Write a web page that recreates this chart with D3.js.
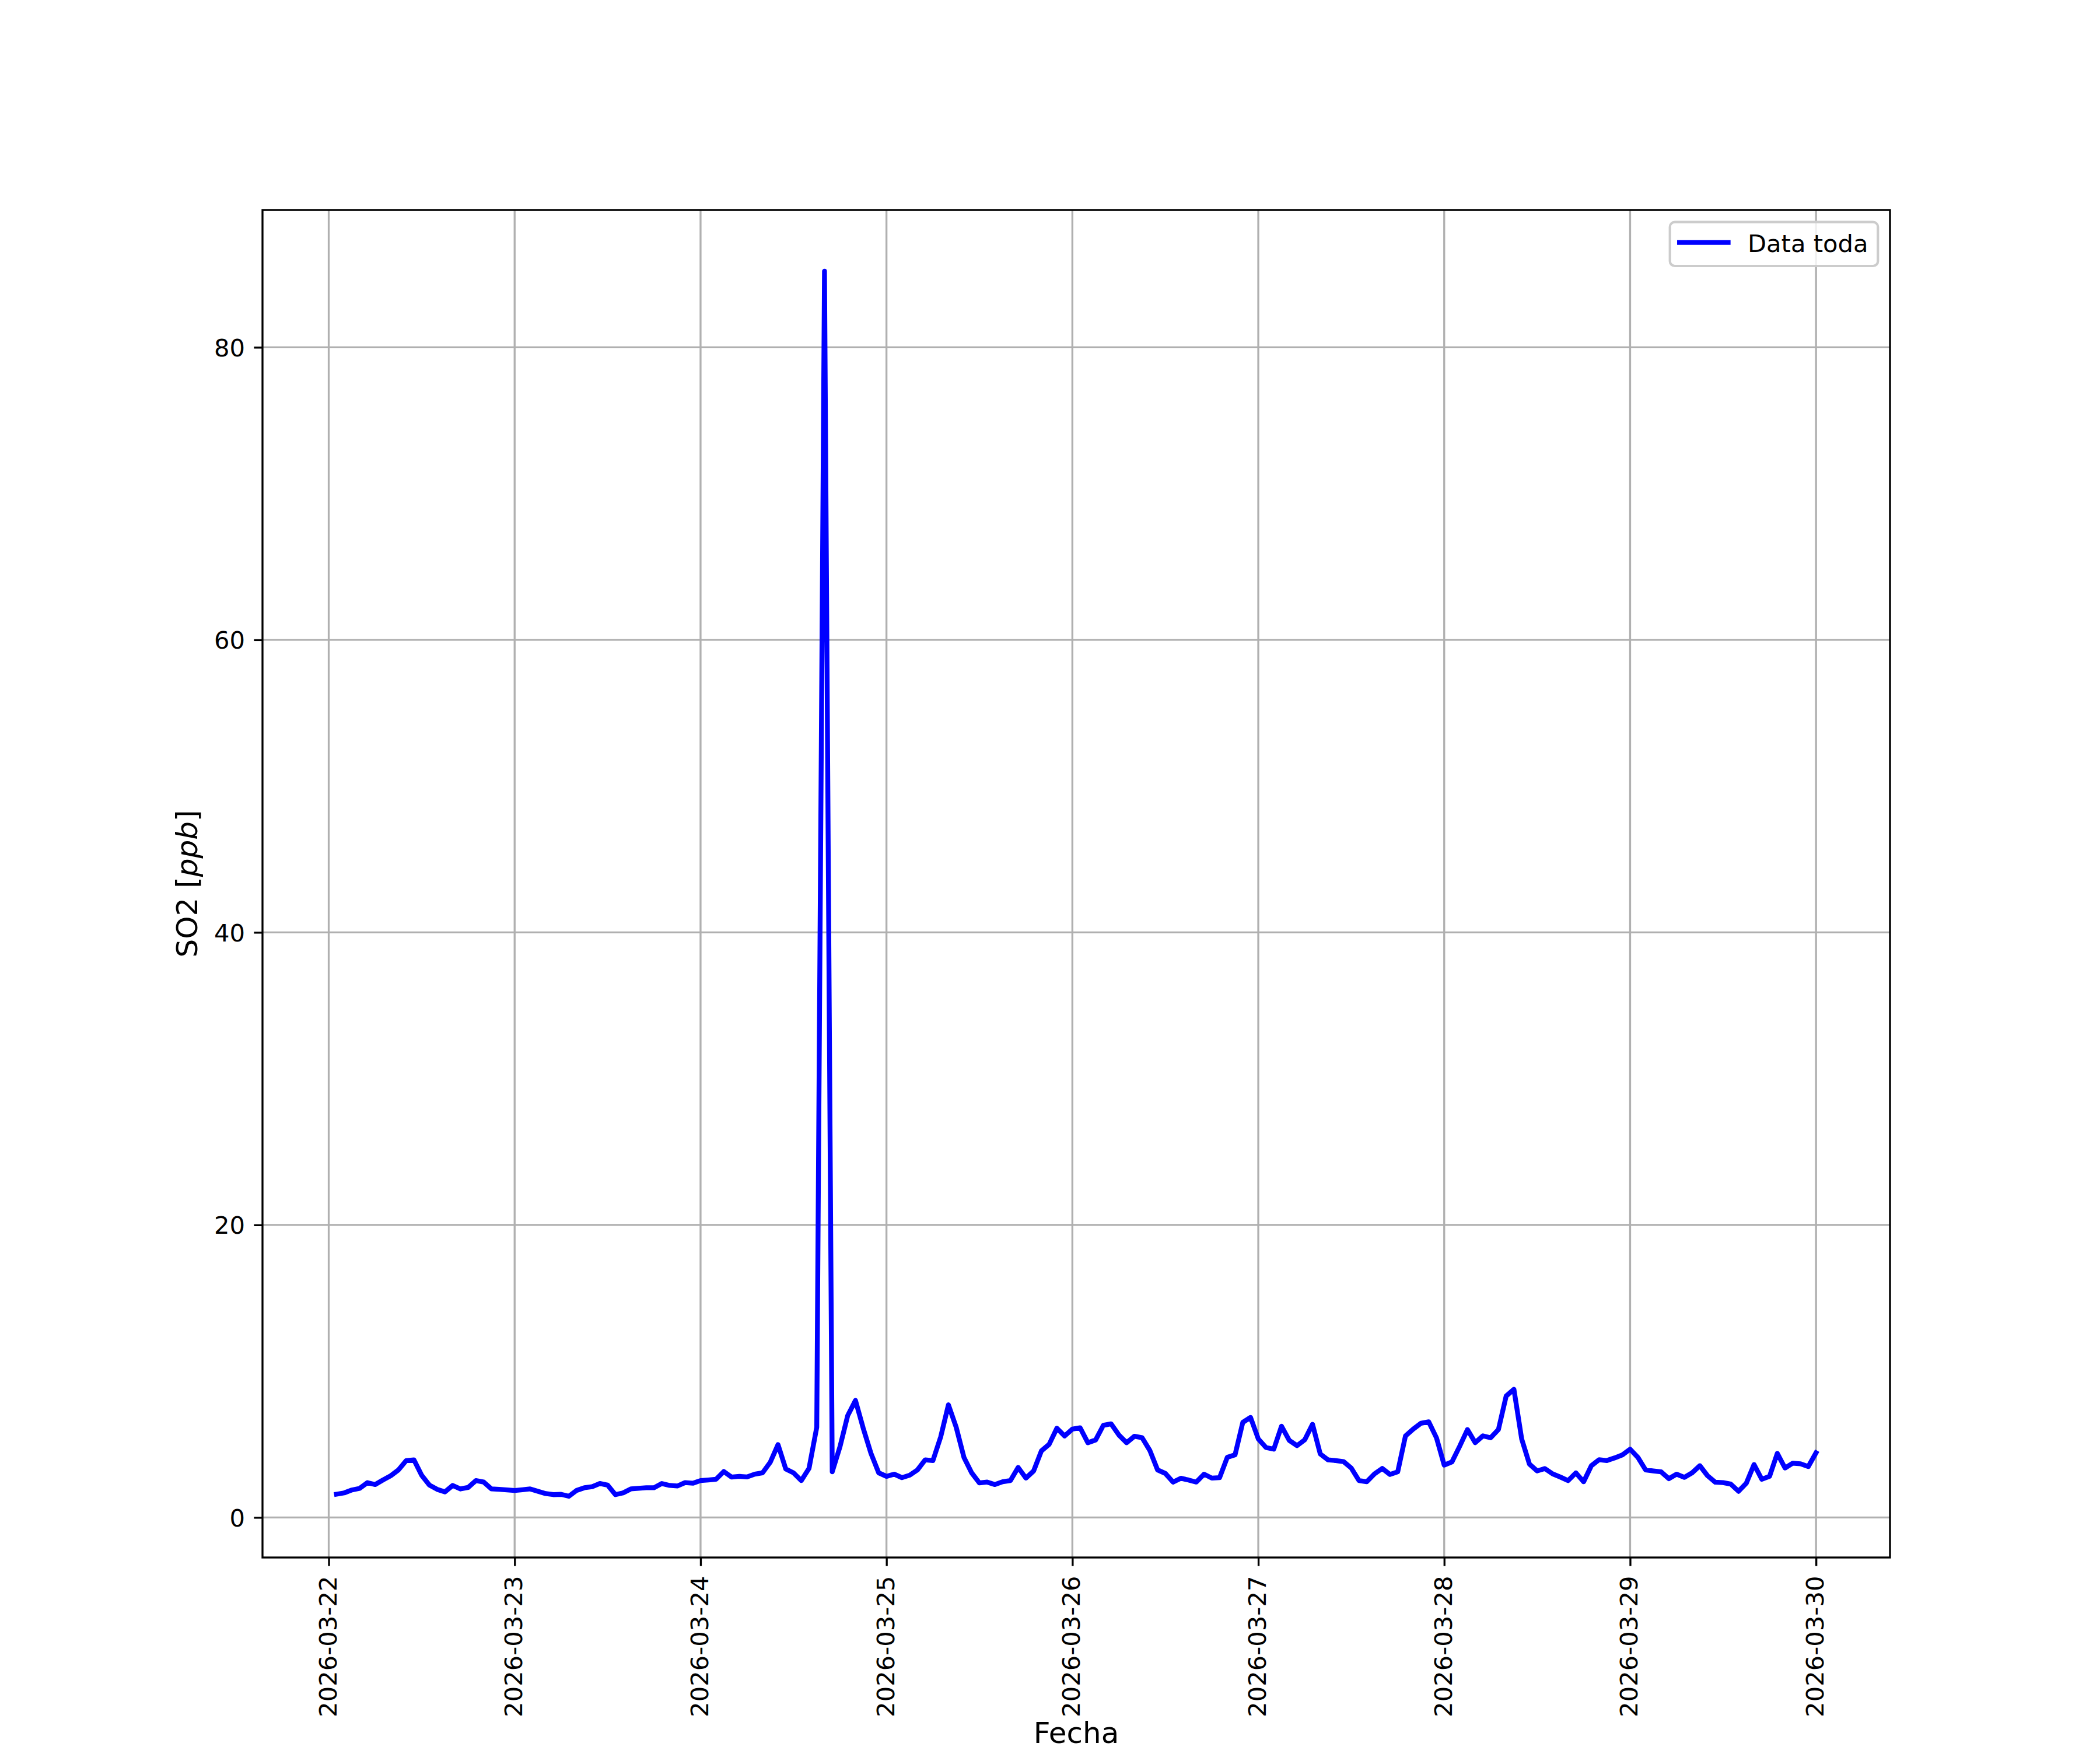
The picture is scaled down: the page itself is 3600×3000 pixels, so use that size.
<!DOCTYPE html>
<html>
<head>
<meta charset="utf-8">
<script src="https://cdn.jsdelivr.net/npm/d3@7"></script>
<style>
  html, body { margin: 0; padding: 0; background: #ffffff; }
  svg { display: block; }
</style>
</head>
<body>
<script>
// ---------------- DATA ----------------
// Hourly SO2 series (ppb), first sample 2026-03-22 01:00, last 2026-03-30 00:00
const startTime = "2026-03-22T01:00:00";
const endTime = "2026-03-30T00:00:00";

const so2Values = [
  1.59, 1.68, 1.88, 1.99, 2.38, 2.25, 2.56, 2.85, 3.25, 3.89, 3.94, 2.88,
  2.21, 1.92, 1.75, 2.19, 1.95, 2.05, 2.52, 2.42, 1.95, 1.92, 1.88, 1.84,
  1.89, 1.95, 1.79, 1.63, 1.56, 1.58, 1.45, 1.85, 2.03, 2.10, 2.32, 2.21,
  1.56, 1.68, 1.95, 1.99, 2.03, 2.03, 2.32, 2.19, 2.15, 2.38, 2.34, 2.52,
  2.56, 2.61, 3.14, 2.76, 2.81, 2.77, 2.96, 3.05, 3.78, 4.98, 3.31, 3.05,
  2.52, 3.35, 6.17, 85.2, 3.12, 4.84, 6.97, 8.00, 6.10, 4.38, 3.05, 2.81,
  2.96, 2.72, 2.89, 3.25, 3.94, 3.89, 5.51, 7.70, 6.17, 4.11, 3.05, 2.36,
  2.42, 2.25, 2.44, 2.52, 3.42, 2.69, 3.18, 4.55, 5.00, 6.10, 5.57, 6.04,
  6.13, 5.11, 5.30, 6.30, 6.40, 5.64, 5.11, 5.55, 5.45, 4.58, 3.25, 3.01,
  2.42, 2.68, 2.56, 2.42, 2.96, 2.69, 2.72, 4.11, 4.28, 6.50, 6.84, 5.37,
  4.78, 4.67, 6.24, 5.27, 4.91, 5.31, 6.37, 4.34, 3.94, 3.89, 3.82, 3.38,
  2.52, 2.44, 2.98, 3.35, 2.94, 3.12, 5.57, 6.04, 6.44, 6.54, 5.45, 3.58,
  3.80, 4.87, 6.01, 5.11, 5.58, 5.45, 6.01, 8.30, 8.76, 5.37, 3.65, 3.18,
  3.34, 2.98, 2.76, 2.52, 3.05, 2.44, 3.54, 3.95, 3.89, 4.07, 4.28, 4.67,
  4.11, 3.25, 3.18, 3.12, 2.65, 2.96, 2.74, 3.05, 3.54, 2.85, 2.41, 2.38,
  2.28, 1.79, 2.34, 3.62, 2.61, 2.81, 4.38, 3.38, 3.71, 3.67, 3.48, 4.42
];

const xTickLabels = [
  "2026-03-22", "2026-03-23", "2026-03-24", "2026-03-25", "2026-03-26",
  "2026-03-27", "2026-03-28", "2026-03-29", "2026-03-30"
];
const yTickValues = [0, 20, 40, 60, 80];
const seriesName = "Data toda";
const xAxisTitle = "Fecha";
const yAxisTitleParts = [
  { text: "SO2 [", italic: false },
  { text: "ppb", italic: true },
  { text: "]", italic: false }
];

// ---------------- LAYOUT ----------------
const W = 3600, H = 3000;
const plot = { left: 450, right: 3240, top: 360, bottom: 2670 };
const FONT = "'DejaVu Sans', sans-serif";
const tickFont = 41.67, labelFont = 50;
const lw = 3.33; // 0.8pt at 300 dpi
const tickLen = 14.6;

const parse = d3.utcParse("%Y-%m-%dT%H:%M:%S");
const parseDay = d3.utcParse("%Y-%m-%d");
const t0 = parse(startTime), t1 = parse(endTime);
const times = d3.utcHour.range(t0, d3.utcHour.offset(t1, 1));
const data = times.map((t, i) => ({ t, v: so2Values[i] }));

// matplotlib-like 5% margins
const span = t1 - t0;
const xScale = d3.scaleUtc()
  .domain([new Date(+t0 - 0.05 * span), new Date(+t1 + 0.05 * span)])
  .range([plot.left, plot.right]);
const [vmin, vmax] = d3.extent(so2Values);
const vr = vmax - vmin;
const yScale = d3.scaleLinear()
  .domain([vmin - 0.05 * vr, vmax + 0.05 * vr])
  .range([plot.bottom, plot.top]);

const svg = d3.select("body").append("svg")
  .attr("width", W).attr("height", H)
  .attr("viewBox", `0 0 ${W} ${H}`);

svg.append("rect").attr("width", W).attr("height", H).attr("fill", "#ffffff");

svg.append("defs").append("clipPath").attr("id", "plotclip")
  .append("rect")
  .attr("x", plot.left).attr("y", plot.top)
  .attr("width", plot.right - plot.left)
  .attr("height", plot.bottom - plot.top);

const xTickDates = xTickLabels.map(s => parseDay(s));

// ---- grid ----
const grid = svg.append("g").attr("clip-path", "url(#plotclip)");
grid.selectAll("line.gx").data(xTickDates).enter().append("line")
  .attr("x1", d => xScale(d)).attr("x2", d => xScale(d))
  .attr("y1", plot.top).attr("y2", plot.bottom)
  .attr("stroke", "#b0b0b0").attr("stroke-width", lw);
grid.selectAll("line.gy").data(yTickValues).enter().append("line")
  .attr("y1", d => yScale(d)).attr("y2", d => yScale(d))
  .attr("x1", plot.left).attr("x2", plot.right)
  .attr("stroke", "#b0b0b0").attr("stroke-width", lw);

// ---- series line ----
const line = d3.line().x(d => xScale(d.t)).y(d => yScale(d.v));
svg.append("g").attr("clip-path", "url(#plotclip)")
  .append("path")
  .datum(data)
  .attr("d", line)
  .attr("fill", "none")
  .attr("stroke", "#0000ff")
  .attr("stroke-width", 8.33)
  .attr("stroke-linejoin", "round")
  .attr("stroke-linecap", "square");

// ---- axes (d3 axes, styled like matplotlib) ----
const xAxis = d3.axisBottom(xScale)
  .tickValues(xTickDates)
  .tickFormat((d, i) => xTickLabels[i])
  .tickSize(tickLen).tickSizeOuter(0);
const gx = svg.append("g")
  .attr("transform", `translate(0,${plot.bottom})`)
  .call(xAxis);
gx.select(".domain").remove();
gx.selectAll(".tick line").attr("stroke", "#000").attr("stroke-width", lw);
gx.selectAll(".tick text")
  .attr("font-family", FONT).attr("font-size", tickFont).attr("fill", "#000")
  .attr("text-anchor", "end")
  .attr("transform", "rotate(-90)")
  .attr("x", -(tickLen + 17))
  .attr("y", 0)
  .attr("dy", "0.3em");

const yAxis = d3.axisLeft(yScale)
  .tickValues(yTickValues)
  .tickFormat(d3.format("d"))
  .tickSize(tickLen).tickSizeOuter(0);
const gy = svg.append("g")
  .attr("transform", `translate(${plot.left},0)`)
  .call(yAxis);
gy.select(".domain").remove();
gy.selectAll(".tick line").attr("stroke", "#000").attr("stroke-width", lw);
gy.selectAll(".tick text")
  .attr("font-family", FONT).attr("font-size", tickFont).attr("fill", "#000")
  .attr("text-anchor", "end")
  .attr("x", -(tickLen + 15.4))
  .attr("dy", "0.36em");

// ---- spines ----
svg.append("rect")
  .attr("x", plot.left).attr("y", plot.top)
  .attr("width", plot.right - plot.left)
  .attr("height", plot.bottom - plot.top)
  .attr("fill", "none").attr("stroke", "#000").attr("stroke-width", lw)
  .attr("stroke-linejoin", "miter");

// ---- axis titles ----
svg.append("text")
  .attr("x", (plot.left + plot.right) / 2).attr("y", 2988)
  .attr("text-anchor", "middle")
  .attr("font-family", FONT).attr("font-size", labelFont).attr("fill", "#000")
  .text(xAxisTitle);

const yt = svg.append("text")
  .attr("transform", `translate(338,${(plot.top + plot.bottom) / 2}) rotate(-90)`)
  .attr("text-anchor", "middle")
  .attr("font-family", FONT).attr("font-size", labelFont).attr("fill", "#000");
yAxisTitleParts.forEach(p => {
  yt.append("tspan").attr("font-style", p.italic ? "italic" : "normal").text(p.text);
});

// ---- legend ----
const lg = svg.append("g");
lg.append("rect")
  .attr("x", 2862.7).attr("y", 380.7)
  .attr("width", 3219.3 - 2862.7).attr("height", 456 - 380.7)
  .attr("rx", 8.3).attr("ry", 8.3)
  .attr("fill", "#ffffff").attr("fill-opacity", 0.8)
  .attr("stroke", "#cccccc").attr("stroke-width", 4.17);
lg.append("line")
  .attr("x1", 2879.2).attr("x2", 2962.5)
  .attr("y1", 415.7).attr("y2", 415.7)
  .attr("stroke", "#0000ff").attr("stroke-width", 8.33)
  .attr("stroke-linecap", "square");
lg.append("text")
  .attr("x", 2996).attr("y", 431.5)
  .attr("font-family", FONT).attr("font-size", tickFont).attr("fill", "#000")
  .text(seriesName);
</script>
</body>
</html>
